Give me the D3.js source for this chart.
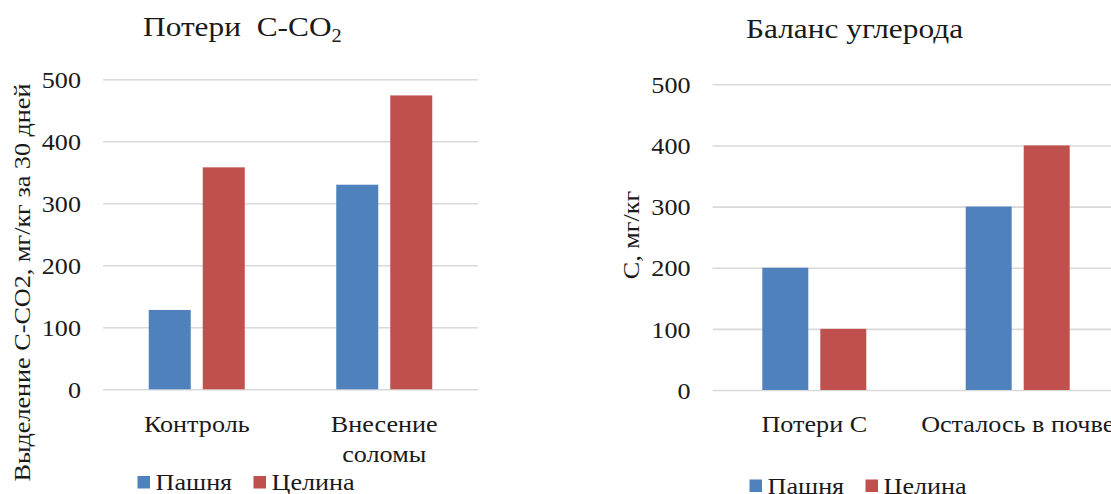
<!DOCTYPE html>
<html><head><meta charset="utf-8">
<script src="https://cdn.jsdelivr.net/npm/d3@7"></script>
</head>
<body style="margin:0;padding:0;background:#fff;"><svg id="c" width="1111" height="494" font-family='"Liberation Serif", serif'></svg>
<script>
// ---- data ----
const series = ["Пашня", "Целина"];
const colors = ["#4F81BD", "#C0504D"];
const yTicks = [0, 100, 200, 300, 400, 500];

const leftCategories = [["Контроль"], ["Внесение", "соломы"]];
const leftPashnya = [128, 330];
const leftTselina = [358, 474];

const rightCategories = [["Потери С"], ["Осталось в почве"]];
const rightPashnya = [200, 300];
const rightTselina = [100, 400];

const FONT = '"Liberation Serif", serif';
const INK = "#1a1a1a";
const FS = 24, SX = 1.09;
const svg = d3.select("#c");
svg.append("rect").attr("width",1111).attr("height",494).attr("fill","#fff");

function txt(sel){ return sel.attr("font-family",FONT).attr("fill",INK); }
function stext(parent, x, y, fs, sx, extra){
  return txt(parent.append("text")).attr("x",0).attr("y",0)
    .attr("transform",`translate(${x},${y})${extra||""} scale(${sx},1)`)
    .attr("font-size",fs);
}

function panel(cfg){
  const g = svg.append("g");
  const cats = cfg.cats.map(c => c.join(" "));
  const x0 = d3.scaleBand().domain(cats).range([cfg.x0, cfg.x1]).padding(0);
  const x1 = d3.scaleBand().domain(series).range([0, x0.bandwidth()])
      .paddingInner(cfg.pi).paddingOuter(cfg.po);
  const y = d3.scaleLinear().domain([0,500]).range([cfg.y0, cfg.y500]);

  // gridlines + tick labels
  const ax = d3.axisLeft(y).tickValues(yTicks).tickSize(-(cfg.gridEnd - cfg.x0)).tickPadding(22);
  const ag = g.append("g").attr("transform",`translate(${cfg.x0},0)`).call(ax);
  ag.attr("font-family",FONT);
  ag.select(".domain").remove();
  ag.selectAll(".tick line").attr("stroke","#d9d9d9").attr("stroke-width",1.6);
  txt(ag.selectAll(".tick text")).attr("font-size",FS).attr("dy","0.34em")
    .attr("x",0).attr("transform",`translate(-22,0) scale(${SX},1)`);

  // bars
  const vals = [cfg.a, cfg.b];
  cats.forEach((c,i)=>{
    series.forEach((s,j)=>{
      g.append("rect")
        .attr("x", x0(c)+x1(s)).attr("width", x1.bandwidth())
        .attr("y", y(vals[j][i])).attr("height", y(0)-y(vals[j][i]))
        .attr("fill", colors[j]);
    });
  });

  // category labels
  cfg.cats.forEach((lines,i)=>{
    const cx = x0(cats[i]) + x0.bandwidth()/2;
    const t = stext(g, cx, y(0)+42.4, FS, SX).attr("text-anchor","middle");
    lines.forEach((ln,k)=>{
      t.append("tspan").attr("x",0).attr("y", k*30).text(ln);
    });
  });

  // title
  const tt = stext(g, cfg.titleX, cfg.titleY, cfg.titleSize, 1.12)
      .attr("xml:space","preserve").style("white-space","pre");
  tt.append("tspan").text(cfg.title);
  if(cfg.titleSub){
    tt.append("tspan").attr("font-size",cfg.titleSize*0.65).attr("dy",6).text(cfg.titleSub);
  }

  // y title
  stext(g, cfg.yTitleX, cfg.yTitleY, FS, SX, " rotate(-90)")
    .attr("text-anchor","middle").text(cfg.yTitle);

  // legend
  let lx = cfg.legX;
  series.forEach((s,j)=>{
    g.append("rect").attr("x",lx).attr("y",cfg.legY-14).attr("width",12.5).attr("height",12.5).attr("fill",colors[j]);
    stext(g, lx+18, cfg.legY, FS, SX).text(s);
    lx = cfg.legX + cfg.legGap;
  });
}

panel({cats:leftCategories, a:leftPashnya, b:leftTselina,
  x0:103, x1:478, gridEnd:478, pi:0.222, po:0.847, y0:389.3, y500:79.3,
  title:"Потери  С-СО", titleSub:"2", titleX:143, titleY:36, titleSize:28,
  yTitle:"Выделение С-СО2, мг/кг за 30 дней", yTitleX:29.5, yTitleY:282.5,
  legX:137.5, legY:490, legGap:116});

panel({cats:rightCategories, a:rightPashnya, b:rightTselina,
  x0:712.6, x1:1119.4, gridEnd:1119.4, pi:0.207, po:0.857, y0:390, y500:84.3,
  title:"Баланс углерода", titleX:746, titleY:38, titleSize:28,
  yTitle:"С, мг/кг", yTitleX:639, yTitleY:235, 
  legX:749.5, legY:493.5, legGap:116});
</script></body></html>
